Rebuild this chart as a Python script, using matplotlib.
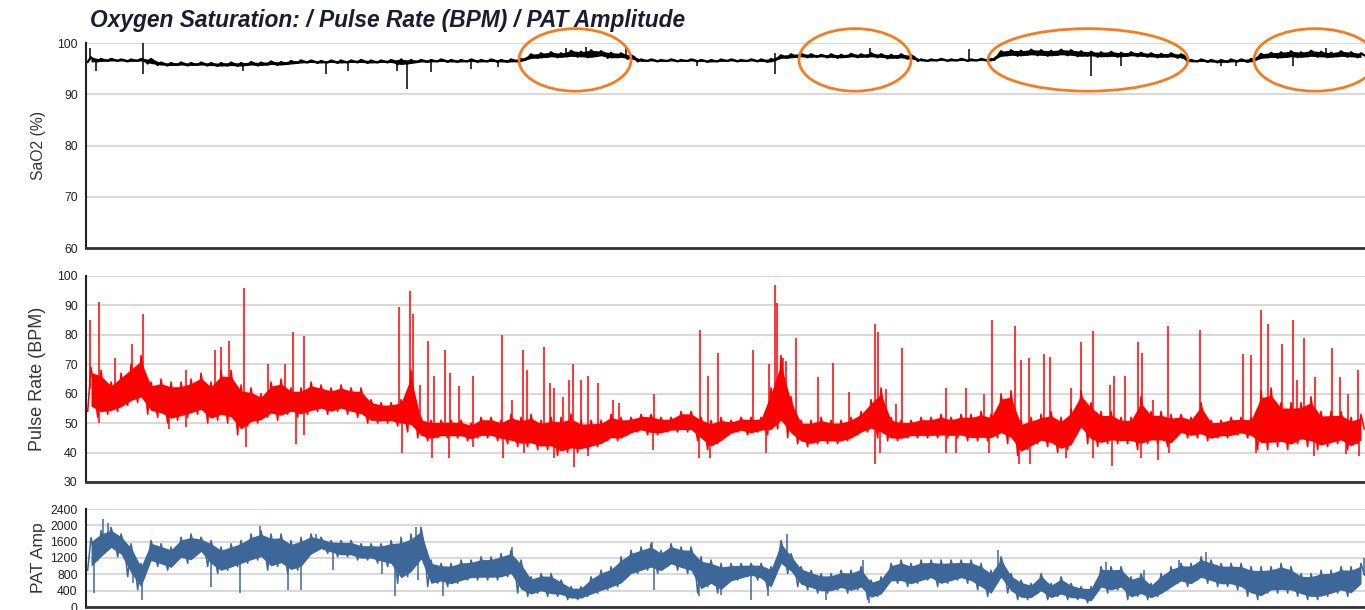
import numpy as np
import matplotlib.pyplot as plt
from matplotlib import font_manager
from matplotlib.patches import Ellipse

# fonts
names = {f.name for f in font_manager.fontManager.ttflist}
narrow = 'Liberation Sans Narrow' if 'Liberation Sans Narrow' in names else 'Liberation Sans'
plt.rcParams['font.family'] = ['Liberation Sans', 'DejaVu Sans']

# time axis: one band sample per 10 samples of recording
n_seg = 128
t = np.arange(n_seg) * 10 + 5

# --- SaO2 (%) band: min / max per interval ---
sao2_lo = [96.3, 96.4, 96.5, 96.5, 96.4, 96.5, 96.0, 95.7, 95.6, 95.7,
           95.6, 95.7, 95.6, 95.5, 95.6, 95.5, 95.7, 95.6, 95.8, 95.7,
           95.9, 96.1, 96.2, 96.1, 96.2, 96.1, 96.2, 96.2, 96.1, 96.2,
           96.2, 95.8, 96.0, 96.3, 96.3, 96.4, 96.3, 96.3, 96.4, 96.3,
           96.4, 96.3, 96.3, 96.4, 97.0, 97.1, 97.3, 97.2, 97.4, 97.3,
           97.2, 97.5, 97.1, 97.2, 96.9, 96.4, 96.5, 96.4, 96.5, 96.4,
           96.5, 96.4, 96.3, 96.4, 96.5, 96.4, 96.5, 96.4, 96.3, 97.0,
           97.1, 97.3, 97.2, 97.3, 97.2, 97.1, 97.3, 97.2, 97.3, 97.2,
           97.0, 97.1, 96.9, 96.5, 96.5, 96.6, 96.5, 96.6, 96.5, 96.6,
           96.5, 97.4, 97.6, 97.5, 97.7, 97.6, 97.5, 97.7, 97.6, 97.4,
           97.5, 97.3, 97.4, 97.3, 97.5, 97.4, 97.3, 97.2, 97.3, 97.1,
           96.3, 96.4, 96.3, 96.2, 96.3, 96.4, 96.3, 97.0, 97.2, 97.1,
           97.3, 97.2, 97.4, 97.3, 97.2, 97.4, 97.3, 97.2]
sao2_hi = [97.2, 96.9, 96.9, 96.8, 96.8, 96.9, 96.9, 96.2, 96.1, 96.2,
           96.1, 96.2, 96.1, 96.1, 96.2, 96.1, 96.3, 96.2, 96.4, 96.3,
           96.5, 96.6, 96.6, 96.5, 96.6, 96.6, 96.6, 96.7, 96.6, 96.6,
           96.7, 96.8, 96.7, 96.7, 96.7, 96.8, 96.7, 96.7, 96.8, 96.7,
           96.8, 96.7, 96.8, 96.9, 97.8, 98.0, 98.2, 98.0, 98.5, 98.3,
           98.6, 98.4, 98.1, 98.0, 97.6, 96.8, 96.8, 96.7, 96.8, 96.7,
           96.8, 96.7, 96.7, 96.8, 96.8, 96.7, 96.8, 96.8, 96.9, 97.6,
           97.8, 97.9, 97.8, 97.7, 97.8, 97.7, 97.9, 97.8, 98.0, 97.8,
           97.7, 97.8, 97.6, 96.8, 96.8, 96.9, 96.8, 96.9, 96.8, 96.9,
           96.9, 98.4, 98.6, 98.5, 98.7, 98.6, 98.5, 98.7, 98.6, 98.4,
           98.3, 98.2, 98.3, 98.1, 98.2, 98.1, 98.0, 97.9, 98.0, 97.8,
           96.7, 96.8, 96.7, 96.7, 96.8, 96.8, 96.9, 97.9, 98.1, 98.2,
           98.4, 98.2, 98.5, 98.3, 98.1, 98.4, 98.2, 98.0]
sao2_spike_t = [4, 10, 57, 57, 157, 240, 262, 311, 321, 345, 385, 412,
                480, 500, 540, 611, 689, 689, 784, 883, 1005, 1035, 1135,
                1150, 1207, 1240]
sao2_spike_v = [99.0, 94.5, 100.0, 94.0, 94.5, 94.0, 94.5, 94.5, 91.0, 94.3,
                95.0, 95.3, 99.0, 99.3, 99.0, 95.5, 94.0, 98.0, 99.0, 98.8,
                93.5, 95.5, 95.5, 95.5, 95.5, 99.0]

# --- Pulse rate (BPM) band ---
pulse_lo = [54, 52, 53, 54, 56, 57, 53, 52, 50, 51, 52, 53, 50, 51, 50, 46,
            49, 50, 52, 51, 53, 52, 53, 54, 53, 54, 53, 52, 50, 50, 50, 49,
            47, 45, 44, 45, 45, 45, 44, 45, 45, 44, 43, 42, 42, 41, 41, 39,
            40, 40, 41, 42, 44, 44, 46, 47, 46, 46, 47, 47, 47, 44, 41, 43,
            46, 47, 46, 47, 46, 48, 45, 43, 42, 43, 43, 43, 44, 46, 47, 45,
            44, 44, 45, 45, 45, 45, 45, 45, 44, 44, 44, 45, 43, 39, 41, 43,
            42, 40, 41, 47, 43, 42, 43, 43, 43, 41, 43, 43, 42, 46, 45, 45,
            44, 45, 45, 46, 45, 41, 41, 42, 41, 43, 42, 41, 42, 43, 41, 43]
pulse_hi = [69, 68, 64, 67, 70, 73, 64, 65, 64, 64, 65, 67, 64, 68, 68, 63,
            62, 60, 64, 65, 62, 62, 64, 63, 62, 63, 62, 62, 58, 57, 57, 58,
            68, 52, 51, 51, 51, 51, 50, 52, 52, 51, 53, 52, 53, 51, 52, 52,
            53, 51, 51, 51, 53, 52, 52, 53, 53, 52, 52, 54, 54, 52, 51, 52,
            51, 52, 52, 52, 62, 73, 59, 51, 51, 52, 51, 51, 52, 54, 58, 62,
            52, 51, 51, 52, 52, 53, 52, 53, 53, 54, 53, 60, 61, 51, 52, 53,
            54, 52, 55, 61, 57, 54, 54, 52, 52, 59, 54, 54, 53, 53, 52, 57,
            51, 51, 52, 52, 52, 61, 62, 57, 57, 57, 59, 54, 54, 54, 52, 53]
pulse_spike_t = [4, 13, 29, 46, 57, 100, 129, 135, 143, 158, 182, 199, 207, 218,
                 313, 324, 327, 334, 342, 348, 359, 364, 373, 387, 416, 426, 437,
                 441, 458, 464, 468, 477, 483, 487, 495, 502, 512, 527, 533, 568,
                 614, 622, 632, 667, 683, 689, 691, 697, 700, 710, 732, 747, 763,
                 789, 792, 800, 810, 816, 860, 880, 898, 906, 929, 935, 943, 958,
                 964, 985, 995, 1007, 1024, 1028, 1039, 1052, 1056, 1067, 1082,
                 1114, 1157, 1165, 1175, 1182, 1196, 1207, 1211, 1218, 1229, 1246,
                 1254, 1262, 1272,
                 13, 83, 100, 160, 210, 218, 316, 346, 363, 387, 417, 438, 468,
                 488, 502, 567, 613, 624, 680, 789, 794, 860, 870, 903, 933, 944,
                 980, 1007, 1026, 1055, 1072, 1083, 1170, 1228, 1260, 1273]
pulse_spike_v = [85, 91, 72, 77, 87, 68, 75, 76, 78, 96, 70, 70, 81, 79.5,
                 89.5, 95, 87, 63, 78, 66, 75, 67, 62.5, 66, 80, 58, 75,
                 68, 76, 63.6, 62, 59, 64.5, 70, 64.5, 66, 63.7, 58, 57, 60,
                 81.6, 66, 74, 75, 70, 97, 90.7, 72, 71, 79, 65.7, 70.5, 60.6,
                 83.6, 81, 61.7, 56.6, 75.7, 62, 62, 60, 85, 83, 71.6, 72.3, 73.6,
                 72.5, 62, 77.6, 81.4, 63, 66, 66, 77.6, 74, 58, 83,
                 81.6, 73.6, 73, 88.6, 83.6, 76.8, 85, 64.5, 79, 65.7, 75.7,
                 65.7, 60, 68,
                 50, 48, 48.6, 42, 43, 46, 40, 38, 38, 42, 38, 40, 38,
                 35, 39, 41, 38, 38, 40, 36, 40, 40, 40, 40, 36, 36,
                 38, 38, 35.6, 38, 37.5, 40, 40, 39, 39.5, 39]

# --- PAT amplitude band ---
pat_lo = [900, 1150, 1390, 1230, 740, 420, 1070, 990, 900, 1150, 1070, 1310,
          990, 820, 900, 990, 1070, 1150, 900, 990, 820, 900, 1230, 1390, 1310,
          1230, 1230, 1150, 1150, 1070, 990, 580,
          740, 1070, 500, 580, 500, 580, 660, 660, 660, 660, 740, 340, 260, 340,
          260, 260, 180, 180, 260, 340, 420, 500, 740, 820, 900, 820, 990, 900,
          820, 340, 500, 340,
          580, 660, 740, 660, 420, 990, 820, 500, 420, 340, 340, 420, 340, 420,
          180, 260, 580, 580, 500, 580, 660, 500, 580, 660, 580, 420, 260, 660,
          340, 180, 180, 340,
          180, 260, 180, 180, 100, 420, 340, 420, 180, 260, 180, 260, 420, 580,
          500, 660, 580, 500, 500, 420, 260, 180, 340, 340, 340, 260, 180, 180,
          260, 340, 260, 500]
pat_hi = [1700, 1870, 1950, 1790, 1550, 1070, 1630, 1550, 1470, 1710, 1790, 1710,
          1630, 1470, 1550, 1630, 1790, 1870, 1790, 1790, 1630, 1710, 1790, 1710,
          1630, 1630, 1630, 1550, 1550, 1550, 1630, 1710,
          1790, 1955, 1150, 1070, 1070, 1150, 1150, 1230, 1230, 1310, 1390, 1150,
          740, 820, 820, 660, 500, 500, 740, 900, 990, 1230, 1390, 1470, 1550,
          1390, 1550, 1470, 1470, 1230, 1150, 1070,
          1070, 1070, 1070, 1070, 990, 1630, 1310, 990, 900, 820, 820, 900, 900,
          990, 660, 740, 1070, 1150, 1070, 1150, 1150, 1150, 1150, 1150, 1150,
          1070, 900, 1230, 820, 660, 580, 820,
          580, 740, 580, 500, 500, 990, 990, 990, 740, 820, 580, 820, 990, 1070,
          1070, 1230, 1150, 1070, 1070, 1070, 990, 990, 990, 1070, 990, 820, 820,
          900, 900, 990, 990, 1070]
pat_spike_t = [17, 22, 174, 230, 330, 426, 566, 701, 777, 912, 1020, 1058, 1093,
               1120, 1278,
               8, 47, 56, 125, 154, 202, 215, 247, 296, 309, 332, 357, 568, 613,
               635, 665, 682, 740, 783]
pat_spike_v = [2160, 2050, 1980, 1800, 1955, 1470, 1590, 1794, 1147, 1390, 1110,
               900, 1150, 1350, 1190,
               340, 580, 180, 500, 340, 420, 420, 900, 820, 260, 660, 260, 420,
               260, 300, 180, 260, 180, 100]

# circled periods on the SaO2 trace (centre time, width in time units)
circle_t = [489, 769, 1002, 1229]
circle_w = [112, 112, 200, 122]

RED = '#ff0000'
BLUE = '#3d6798'
GRID = '#d9d9d9'


def band(ax, lo, hi, color, spike_t, spike_v, lw=1.1, core=0.12):
    lo = np.asarray(lo, float)
    hi = np.asarray(hi, float)
    rng = hi - lo
    # solid core of the trace, ragged min/max edges drawn as a zigzag
    ax.fill_between(t, lo + core * rng, hi - core * rng, color=color, lw=0)
    zt = np.column_stack([t - 3.3, t, t + 3.3]).ravel()
    zy = np.column_stack([lo, hi, lo + 0.5 * rng]).ravel()
    ax.plot(zt, zy, color=color, lw=lw)
    mid = np.interp(spike_t, t, (lo + hi) / 2)
    ax.vlines(spike_t, mid, spike_v, color=color, lw=1.1)


def style(ax, lo, hi, ticks, label, labelsize):
    ax.set_xlim(0, 1279)
    ax.set_ylim(lo, hi)
    ax.set_yticks(ticks)
    ax.set_xticks([])
    ax.grid(axis='y', color=GRID, lw=1.5)
    ax.set_axisbelow(True)
    for s in ['top', 'right']:
        ax.spines[s].set_visible(False)
    ax.spines['left'].set_color('#222222')
    ax.spines['left'].set_linewidth(1.5)
    ax.spines['bottom'].set_color('#333333')
    ax.spines['bottom'].set_linewidth(2)
    ax.tick_params(axis='y', length=0, pad=6, labelsize=8.8, labelcolor='#222222')
    for lab in ax.get_yticklabels():
        lab.set_fontfamily(narrow)
    ax.set_ylabel(label, fontsize=labelsize, color='#333333')
    ax.yaxis.set_label_coords(-0.031, 0.5)


W, H = 1365, 610
fig = plt.figure(figsize=(W / 100, H / 100), dpi=100)
ax1 = fig.add_axes([86 / W, 1 - 248 / H, 1 - 86 / W, 205 / H])
ax2 = fig.add_axes([86 / W, 1 - 482 / H, 1 - 86 / W, 206 / H])
ax3 = fig.add_axes([86 / W, 1 - 607 / H, 1 - 86 / W, 98 / H])

band(ax1, sao2_lo, sao2_hi, 'black', sao2_spike_t, sao2_spike_v, lw=1.6, core=0.0)
style(ax1, 60, 100, [60, 70, 80, 90, 100], 'SaO2 (%)', 11.3)

band(ax2, pulse_lo, pulse_hi, RED, pulse_spike_t, pulse_spike_v)
style(ax2, 30, 100, range(30, 101, 10), 'Pulse Rate (BPM)', 13.0)

band(ax3, pat_lo, pat_hi, BLUE, pat_spike_t, pat_spike_v)
style(ax3, 0, 2400, range(0, 2401, 400), 'PAT Amp', 12.6)

for ct, cw in zip(circle_t, circle_w):
    ax1.add_patch(Ellipse((ct, 96.7), cw, 12.2, fill=False, ec='#f47c20',
                          lw=2, clip_on=False, zorder=5))

fig.text(90 / W, 1 - 27 / H, 'Oxygen Saturation: / Pulse Rate (BPM) / PAT Amplitude',
         fontsize=16.4, fontweight='bold', fontstyle='italic', color='#1c1c30',
         family=narrow, va='baseline')

fig.savefig('out.png', dpi=100)
